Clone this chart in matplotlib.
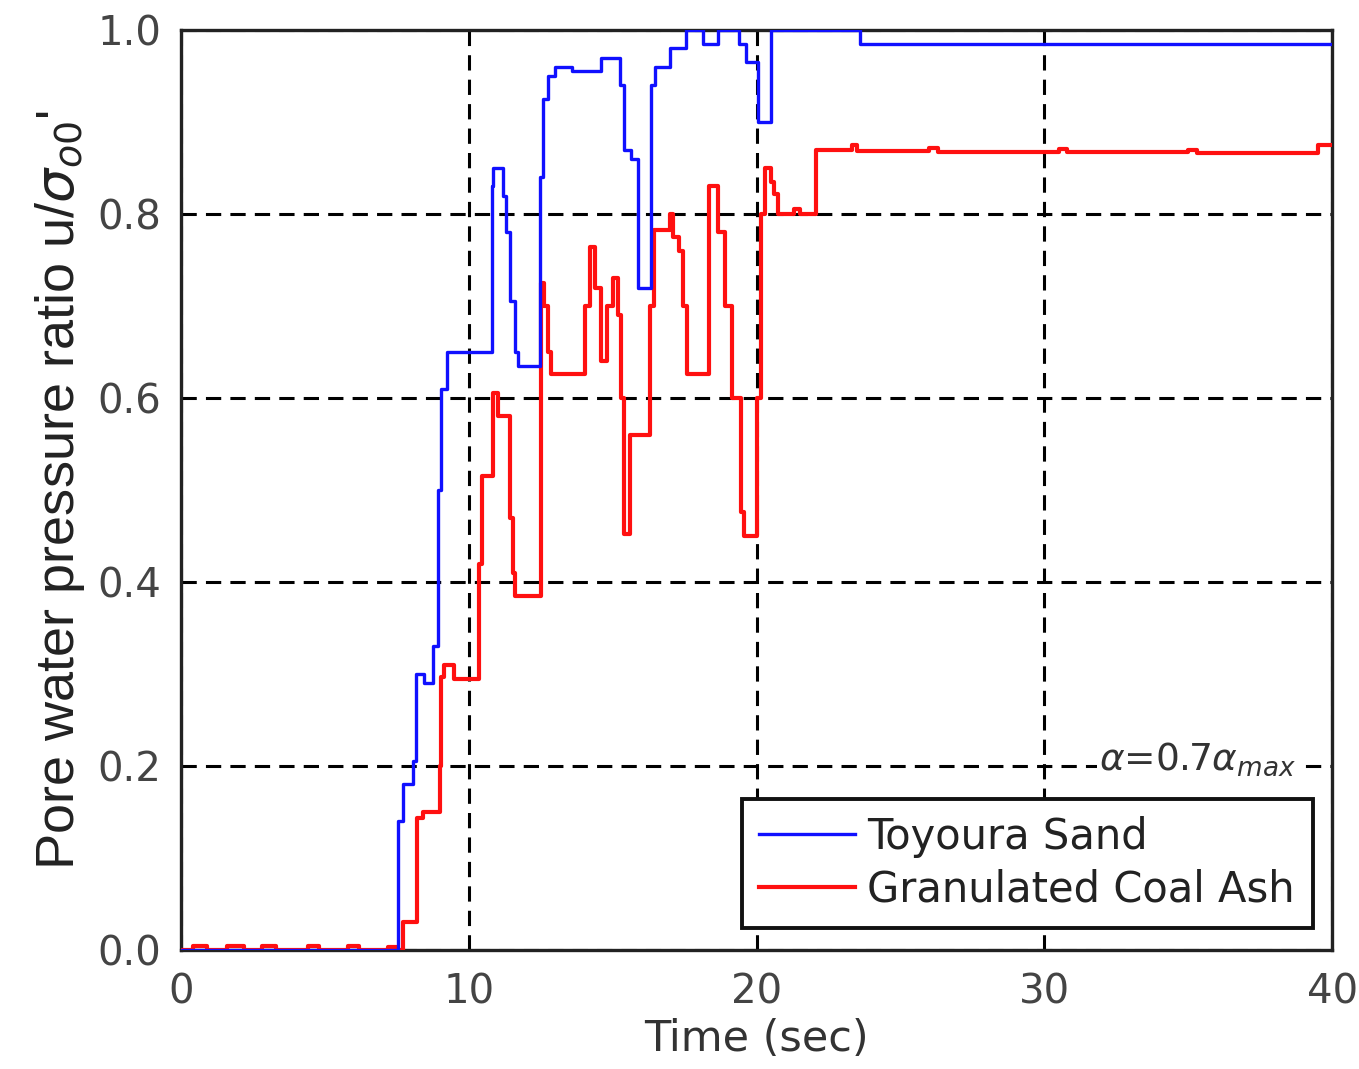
import matplotlib.pyplot as plt

# Toyoura Sand record (step values, held until next time stamp)
sand_t = [0, 7.55, 7.7, 8.05, 8.15, 8.45, 8.75, 8.93, 9.05, 9.25, 10.8, 10.85,
          11.2, 11.3, 11.42, 11.6, 11.72, 12.47, 12.58, 12.75, 13.0, 13.6, 14.0,
          14.6, 15.25, 15.4, 15.62, 15.88, 16.33, 16.46, 16.98, 17.55, 18.15,
          18.65, 19.4, 19.65, 20.05, 20.5, 23.6, 40]
sand_u = [0, 0.14, 0.18, 0.205, 0.30, 0.29, 0.33, 0.50, 0.61, 0.65, 0.83, 0.85,
          0.82, 0.78, 0.705, 0.65, 0.635, 0.84, 0.925, 0.95, 0.96, 0.955, 0.955,
          0.97, 0.94, 0.87, 0.86, 0.72, 0.94, 0.96, 0.98, 1.0, 0.985,
          1.0, 0.985, 0.965, 0.90, 1.0, 0.985, 0.985]

# Granulated Coal Ash record
ash_t = [0, 0.4, 0.9, 1.6, 2.2, 2.8, 3.3, 4.4, 4.8, 5.8, 6.2, 7.2, 7.5,
         7.7, 8.2, 8.4, 9.0, 9.05, 9.15, 9.5, 10.35, 10.45, 10.85, 11.0, 11.42,
         11.55, 11.62, 12.5, 12.6, 12.75, 12.85, 14.05, 14.2, 14.4, 14.6, 14.8,
         15.0, 15.2, 15.3, 15.4, 15.6, 16.3, 16.45, 17.0, 17.1, 17.3, 17.45,
         17.6, 18.35, 18.65, 18.9, 19.15, 19.45, 19.55, 20.0, 20.15, 20.3, 20.5,
         20.6, 20.75, 21.3, 21.5, 22.05, 23.3, 23.5, 26.0, 26.3, 30.5, 30.8,
         35.0, 35.3, 39.5, 40]
ash_u = [0, 0.004, 0, 0.004, 0, 0.004, 0, 0.004, 0, 0.004, 0, 0.003, 0,
         0.03, 0.143, 0.15, 0.20, 0.297, 0.31, 0.295, 0.42, 0.515, 0.605, 0.58, 0.47,
         0.41, 0.385, 0.725, 0.70, 0.65, 0.626, 0.70, 0.764, 0.72, 0.64, 0.70,
         0.73, 0.69, 0.60, 0.452, 0.56, 0.70, 0.783, 0.80, 0.775, 0.76, 0.70,
         0.626, 0.83, 0.78, 0.70, 0.60, 0.476, 0.45, 0.60, 0.80, 0.85, 0.835,
         0.822, 0.80, 0.805, 0.80, 0.87, 0.875, 0.868, 0.872, 0.867, 0.871, 0.867,
         0.870, 0.866, 0.875, 0.875]

x_ticks = [0, 10, 20, 30, 40]
y_ticks = [0.0, 0.2, 0.4, 0.6, 0.8, 1.0]

fig = plt.figure(figsize=(13.59, 10.69), dpi=100)
ax = fig.add_axes([0.1332, 0.1113, 0.8470, 0.8606])

ax.plot(sand_t, sand_u, drawstyle='steps-post', color='#1010ff', lw=2.4,
        label='Toyoura Sand', zorder=4)
ax.plot(ash_t, ash_u, drawstyle='steps-post', color='#ff1010', lw=3.0,
        label='Granulated Coal Ash', zorder=3)

ax.set_xlim(0, 40)
ax.set_ylim(0, 1.0)
ax.set_xticks(x_ticks)
ax.set_yticks(y_ticks)
ax.set_yticklabels([f'{v:.1f}' for v in y_ticks])

ax.grid(True, color='black', linestyle=(0, (5, 3)), lw=2.2)
ax.set_axisbelow(True)
for s in ax.spines.values():
    s.set_linewidth(2.4)
    s.set_color('#222222')

ax.tick_params(direction='in', length=0, labelsize=29, colors='#444444', pad=14)
ax.tick_params(axis='x', pad=16)
for lab in ax.get_xticklabels() + ax.get_yticklabels():
    lab.set_family('DejaVu Sans')

ax.set_xlabel('Time (sec)', fontsize=31, color='#333333', labelpad=4,
              family='DejaVu Sans')
ax.set_ylabel("Pore water pressure ratio u/$\\sigma_{o0}$'", fontsize=39,
              color='#222222', labelpad=8, family='Liberation Sans')

ax.text(31.9, 0.207, r'$\alpha$=0.7$\alpha_{max}$', fontsize=27, color='#333333',
        ha='left', va='center', zorder=5,
        bbox=dict(facecolor='white', edgecolor='none', pad=1))

leg = ax.legend(loc='lower right', bbox_to_anchor=(0.983, 0.024), fontsize=30,
                frameon=True, fancybox=False, framealpha=1.0, handlelength=2.3,
                handletextpad=0.3, borderpad=0.42, labelspacing=0.25,
                borderaxespad=0)
leg.get_frame().set_edgecolor('#111111')
leg.get_frame().set_linewidth(2.8)
leg.set_zorder(6)
for t in leg.get_texts():
    t.set_color('#222222')

fig.savefig('out.png', dpi=100)
